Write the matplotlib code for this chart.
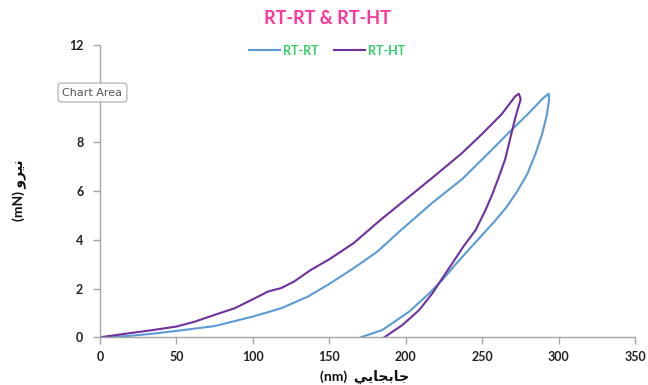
import matplotlib
matplotlib.use("Agg")
import matplotlib.pyplot as plt

# ---- data ----
rtrt_load_x = [0, 18.5, 35, 50, 75, 100, 118.5, 136, 150, 166, 181.5, 196.7, 217, 237, 254.4, 267.4, 280.4, 290.2, 293.5]
rtrt_load_y = [0, 0.05, 0.15, 0.26, 0.46, 0.85, 1.19, 1.67, 2.19, 2.84, 3.52, 4.39, 5.5, 6.5, 7.58, 8.4, 9.2, 9.84, 10.0]
rtrt_unload_x = [293.5, 293.8, 292.4, 289.2, 284.8, 279.4, 273, 266, 258, 250, 242, 232.7, 224, 215.3, 202.2, 184.8, 170.7]
rtrt_unload_y = [10.0, 9.78, 9.16, 8.34, 7.52, 6.69, 6.0, 5.35, 4.75, 4.2, 3.65, 3.0, 2.36, 1.8, 1.05, 0.3, 0.0]

rtht_load_x = [0, 18.5, 35, 50, 62, 75, 88, 100, 110, 118.5, 127, 138, 150, 166, 183.7, 195.7, 217.4, 236.6, 249.6, 262.6, 271.7, 274]
rtht_load_y = [0, 0.16, 0.3, 0.44, 0.64, 0.92, 1.19, 1.56, 1.88, 2.02, 2.29, 2.77, 3.2, 3.87, 4.83, 5.44, 6.55, 7.55, 8.33, 9.15, 9.9, 10.0]
rtht_unload_x = [274, 275.2, 271.7, 268.5, 265.0, 261, 256.5, 252, 245.7, 238, 230.5, 224, 217.4, 208.8, 197.8, 186]
rtht_unload_y = [10.0, 9.78, 9.02, 8.2, 7.3, 6.6, 5.85, 5.2, 4.4, 3.75, 3.04, 2.43, 1.8, 1.12, 0.5, 0.0]

series_names = ["RT-RT", "RT-HT"]
series_colors = ["#5B9BD5", "#7030A0"]
x_ticks = [0, 50, 100, 150, 200, 250, 300, 350]
y_ticks = [0, 2, 4, 6, 8, 10, 12]

title_text = "RT-RT & RT-HT"
# Arabic words written in presentation forms (visual order) since matplotlib does no shaping
xlabel_text = "(nm)  " + "\uFEF2\uFEF3\uFE8E\uFEA0\uFE91\uFE8E\uFE9F"   # جابجايي
ylabel_text = "(mN) " + "\uFEED\uFEAE\uFEF4\uFEE7"                       # نيرو

FAM = ["Lato", "DejaVu Sans"]
plt.rcParams["font.family"] = FAM

fig = plt.figure(figsize=(6.48, 3.85), dpi=100)
ax = fig.add_axes([0.1543, 0.124, 0.8257, 0.759])

ax.plot(rtrt_load_x + rtrt_unload_x, rtrt_load_y + rtrt_unload_y,
        color=series_colors[0], lw=1.5, label=series_names[0], solid_joinstyle="round")
ax.plot(rtht_load_x + rtht_unload_x, rtht_load_y + rtht_unload_y,
        color=series_colors[1], lw=1.5, label=series_names[1], solid_joinstyle="round")

ax.set_xlim(0, 350)
ax.set_ylim(0, 12)
ax.set_xticks(x_ticks)
ax.set_yticks(y_ticks)

for s in ["top", "right"]:
    ax.spines[s].set_visible(False)
for s in ["left", "bottom"]:
    ax.spines[s].set_color("#A6A6A6")
    ax.spines[s].set_linewidth(1.0)

ax.tick_params(axis="both", colors="#A6A6A6", length=5, width=1.0, direction="out",
               labelcolor="#222222", labelsize=9)
ax.tick_params(axis="y", pad=7)
ax.tick_params(axis="x", pad=5)
for lab in ax.get_xticklabels() + ax.get_yticklabels():
    lab.set_fontweight("bold")

fig.text(0.505, 0.953, title_text, ha="center", va="center", fontsize=13,
         fontweight="bold", color="#FF3399", family=FAM)

fig.text(0.563, 0.022, xlabel_text, ha="center", va="center", fontsize=10,
         fontweight="bold", color="#111111", family=FAM)
fig.text(0.031, 0.505, ylabel_text, ha="center", va="center", fontsize=10,
         fontweight="bold", color="#111111", rotation=90, family=FAM)

leg = ax.legend(loc="center", bbox_to_anchor=(0.505, 0.868), bbox_transform=fig.transFigure,
                ncol=2, frameon=False, handlelength=2.5, handletextpad=0.25,
                columnspacing=1.2, prop={"size": 9, "weight": "bold", "family": FAM})
for t in leg.get_texts():
    t.set_color("#33CC66")

fig.text(0.1427, 0.7597, "Chart Area", ha="center", va="center", fontsize=8,
         color="#555555", family="DejaVu Sans",
         bbox=dict(boxstyle="round,pad=0.4,rounding_size=0.3", fc="white", ec="#AAAAAA", lw=0.8),
         zorder=10)

fig.savefig("out.png", dpi=100)
